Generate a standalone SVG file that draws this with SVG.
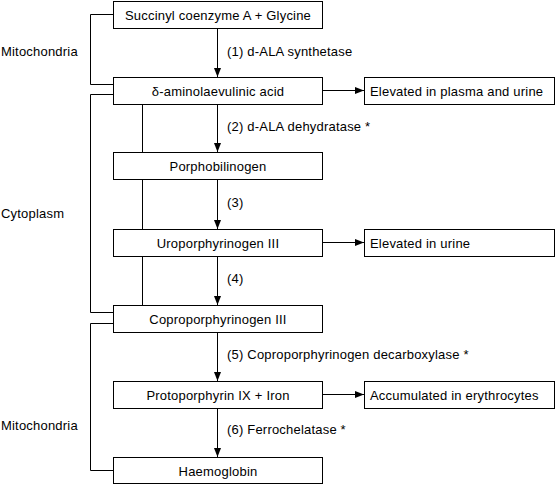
<svg xmlns="http://www.w3.org/2000/svg" width="556" height="485" viewBox="0 0 556 485">
<style>
.box{fill:#fff;stroke:#000;stroke-width:1}
.t{font-family:"Liberation Sans",Arial,sans-serif;font-size:13px;letter-spacing:0.2px;fill:#000}
.c{text-anchor:middle}
.ln{fill:none;stroke:#000;stroke-width:1}
</style>
<defs>
<marker id="ah" markerUnits="userSpaceOnUse" markerWidth="10" markerHeight="8" refX="9" refY="4" orient="auto">
<path d="M0,0.5 L9,4 L0,7.5 Z" fill="#000"/>
</marker>
</defs>
<rect width="556" height="485" fill="#fff"/>
<g id="connectors">
<path class="ln" d="M113,14.5 H90.5 V84.5 H113"/>
<path class="ln" d="M113,94.5 H90.5 V312.5 H113"/>
<path class="ln" d="M113,323.5 H90.5 V470.5 H113"/>
<path class="ln" d="M142.5,104 V152 M142.5,180 V229 M142.5,256 V305"/>
<path class="ln" d="M217.5,28 V77" marker-end="url(#ah)"/>
<path class="ln" d="M217.5,104 V152" marker-end="url(#ah)"/>
<path class="ln" d="M217.5,180 V229" marker-end="url(#ah)"/>
<path class="ln" d="M217.5,256 V305" marker-end="url(#ah)"/>
<path class="ln" d="M217.5,332 V381" marker-end="url(#ah)"/>
<path class="ln" d="M217.5,408 V457" marker-end="url(#ah)"/>
<path class="ln" d="M323,90.5 H364" marker-end="url(#ah)"/>
<path class="ln" d="M323,242.5 H364" marker-end="url(#ah)"/>
<path class="ln" d="M323,394.5 H364" marker-end="url(#ah)"/>
<text class="t" x="227" y="56">(1) d-ALA synthetase</text>
<text class="t" x="227" y="131">(2) d-ALA dehydratase *</text>
<text class="t" x="227" y="207">(3)</text>
<text class="t" x="227" y="283">(4)</text>
<text class="t" x="227" y="359">(5) Coproporphyrinogen decarboxylase *</text>
<text class="t" x="227" y="434">(6) Ferrochelatase *</text>
</g>
<g id="labels">
<text class="t" x="1" y="56">Mitochondria</text>
<text class="t" x="1" y="218">Cytoplasm</text>
<text class="t" x="1" y="430">Mitochondria</text>
</g>
<g id="n1"><rect class="box" x="113.5" y="1.5" width="209" height="27"/><text class="t c" x="218" y="20">Succinyl coenzyme A + Glycine</text></g>
<g id="n2"><rect class="box" x="113.5" y="77.5" width="209" height="27"/><text class="t c" x="218" y="96">δ-aminolaevulinic acid</text></g>
<g id="n3"><rect class="box" x="113.5" y="152.5" width="209" height="27"/><text class="t c" x="218" y="171">Porphobilinogen</text></g>
<g id="n4"><rect class="box" x="113.5" y="229.5" width="209" height="27"/><text class="t c" x="218" y="248">Uroporphyrinogen III</text></g>
<g id="n5"><rect class="box" x="113.5" y="305.5" width="209" height="27"/><text class="t c" x="218" y="324">Coproporphyrinogen III</text></g>
<g id="n6"><rect class="box" x="113.5" y="381.5" width="209" height="27"/><text class="t c" x="218" y="400">Protoporphyrin IX + Iron</text></g>
<g id="n7"><rect class="box" x="113.5" y="457.5" width="209" height="26"/><text class="t c" x="218" y="476">Haemoglobin</text></g>
<g id="r1"><rect class="box" x="364.5" y="77.5" width="190" height="27"/><text class="t" x="370" y="96">Elevated in plasma and urine</text></g>
<g id="r2"><rect class="box" x="364.5" y="229.5" width="190" height="27"/><text class="t" x="370" y="248">Elevated in urine</text></g>
<g id="r3"><rect class="box" x="364.5" y="381.5" width="190" height="27"/><text class="t" x="370" y="400">Accumulated in erythrocytes</text></g>
</svg>
